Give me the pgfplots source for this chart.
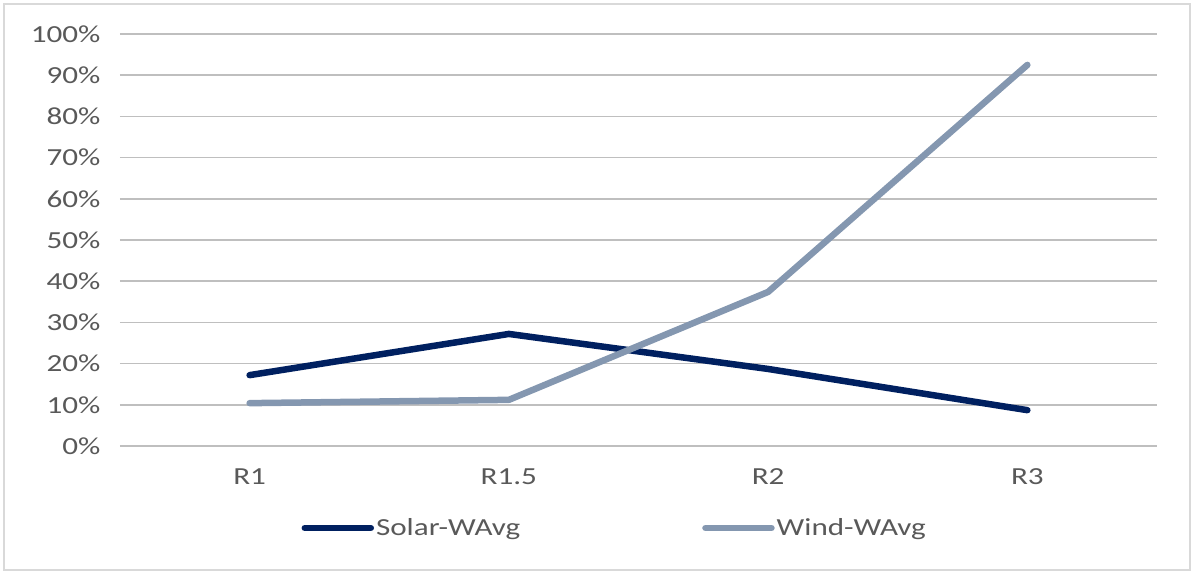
\documentclass[border=0pt]{standalone}
\usepackage{pgfplots}
\pgfplotsset{compat=1.18}
\usepackage{fontspec}
\setmainfont{Carlito}[FakeStretch=1.27]
\definecolor{solarc}{RGB}{0,32,96}
\definecolor{windc}{RGB}{132,151,176}
\definecolor{txt}{RGB}{89,89,89}
\definecolor{grid}{RGB}{217,217,217}
\definecolor{frame}{RGB}{217,217,217}
\begin{document}
\begin{tikzpicture}[x=1pt,y=1pt]
\path (0,0) rectangle (1195,574);
\draw[frame, line width=1.5pt] (4,4) rectangle (1190,570);
\begin{axis}[
  at={(120pt,128pt)}, anchor=south west,
  scale only axis, width=1037pt, height=412pt,
  xmin=-0.5, xmax=3.5, ymin=0, ymax=100,
  xtick={0,1,2,3}, xticklabels={R1,R1.5,R2,R3},
  ytick={0,10,...,100},
  yticklabel={\pgfmathprintnumber{\tick}\%},
  /pgf/number format/assume math mode=true,
  axis line style={draw=none},
  major tick length=0pt,
  xmajorgrids=false, ymajorgrids=true, grid style={grid, line width=1.6pt},
  tick label style={font=\fontsize{24.5}{26}\selectfont, text=txt},
  yticklabel style={xshift=-16pt},
  xticklabel style={yshift=-19pt},
  legend columns=2,
  legend style={at={(0.477,-0.199)}, anchor=center, draw=none, fill=none,
    font=\fontsize{24.5}{26}\selectfont, text=txt,
    /tikz/every even column/.append style={column sep=180pt}},
  legend cell align=left,
  legend image code/.code={\draw[#1, line width=6.5pt, line cap=round] (0pt,0pt) -- (66pt,0pt);},
]
\addplot[solarc, line width=6.5pt, line cap=round, line join=round] coordinates {(0,17.2) (1,27.2) (2,18.7) (3,8.7)};
\addlegendentry{Solar-WAvg}
\addplot[windc, line width=6.5pt, line cap=round, line join=round] coordinates {(0,10.4) (1,11.2) (2,37.4) (3,92.5)};
\addlegendentry{Wind-WAvg}
\end{axis}
\end{tikzpicture}
\end{document}
